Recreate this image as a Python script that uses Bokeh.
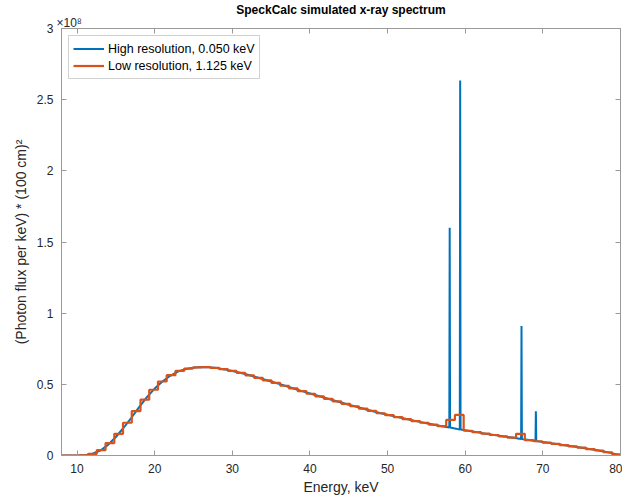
import numpy as np
from bokeh.plotting import figure
from bokeh.models import FixedTicker, LinearAxis, Title, Range1d
from bokeh.embed import file_html
from bokeh.resources import INLINE

# ---- data (flux in units of 1e8 photons per keV * (100 cm)^2) ----
# High resolution (0.050 keV) spectrum: continuum samples plus characteristic lines
energy_hi = [8, 9, 10, 11, 12, 13, 14, 15, 16, 17, 18, 19, 20, 21, 22, 23, 24, 25,
             26, 27, 28, 29, 30, 31, 32, 33, 34, 35, 36, 37, 38, 39, 40, 41, 42,
             43, 44, 45, 46, 47, 48, 49, 50, 51, 52, 53, 54, 55, 56, 57,
             57.95, 58.0, 58.05, 59, 59.3, 59.35, 59.4,
             60, 61, 62, 63, 64, 65, 66, 67, 67.2, 67.25, 67.3, 68,
             69, 69.05, 69.1, 69.15, 70, 71, 72, 73, 74, 75, 76, 77, 78, 79, 80]
flux_hi = [0.0, 0.0, 0.0, 0.001, 0.012, 0.035, 0.075, 0.13, 0.195, 0.265, 0.34, 0.41,
           0.47, 0.52, 0.56, 0.59, 0.607, 0.616, 0.622, 0.62, 0.614, 0.605, 0.594,
           0.581, 0.567, 0.552, 0.536, 0.52, 0.503, 0.486, 0.469, 0.452, 0.436,
           0.42, 0.404, 0.388, 0.372, 0.357, 0.342, 0.327, 0.313, 0.299, 0.286,
           0.273, 0.261, 0.249, 0.238, 0.227, 0.216, 0.206,
           0.197, 1.60, 0.196, 0.186, 0.183, 2.635, 0.182,
           0.177, 0.168, 0.159, 0.15, 0.142, 0.134, 0.126, 0.118, 0.116, 0.91, 0.115, 0.11,
           0.102, 0.102, 0.31, 0.101, 0.095, 0.087, 0.079, 0.071, 0.063, 0.055,
           0.046, 0.037, 0.027, 0.015, 0.0]

# Low resolution (1.125 keV) binned spectrum
bin_start = 8.05
bin_width = 1.125
flux_lo = [0.0, 0.0, 0.001, 0.012, 0.038, 0.087, 0.152, 0.23, 0.312, 0.392, 0.462,
           0.52, 0.564, 0.594, 0.611, 0.619, 0.621, 0.616, 0.607, 0.594, 0.58,
           0.563, 0.546, 0.528, 0.51, 0.49, 0.471, 0.452, 0.434, 0.416, 0.398,
           0.38, 0.363, 0.346, 0.329, 0.313, 0.297, 0.283, 0.269, 0.255, 0.242,
           0.23, 0.217, 0.206, 0.25, 0.285, 0.174, 0.164, 0.153, 0.144, 0.135,
           0.126, 0.152, 0.108, 0.1, 0.091, 0.082, 0.073, 0.064, 0.055, 0.045,
           0.035, 0.023, 0.008]

x_ticks = [10, 20, 30, 40, 50, 60, 70, 80]
y_ticks = [0, 0.5, 1, 1.5, 2, 2.5, 3]
y_tick_labels = {0: "0", 0.5: "0.5", 1: "1", 1.5: "1.5", 2: "2", 2.5: "2.5", 3: "3"}

title_text = "SpeckCalc simulated x-ray spectrum"
x_label = "Energy, keV"
y_label = "(Photon flux per keV) * (100 cm)\u00b2"
exp_text = "\u00d710\u2078"
label_hi = "High resolution, 0.050 keV"
label_lo = "Low resolution, 1.125 keV"

# ---- styling ----
FONT = "Liberation Sans"
TXT = "#262626"
AX = "#9a9a9a"
BLUE = "#0072BD"
ORANGE = "#D95319"

p = figure(width=622, height=499, output_backend="svg", toolbar_location=None,
           x_range=Range1d(8, 80), y_range=Range1d(0, 3),
           min_border_left=61, min_border_right=2, min_border_top=28,
           min_border_bottom=44)
p.grid.visible = False
p.outline_line_color = AX
p.background_fill_color = "white"
p.border_fill_color = "white"

p.title.text = title_text
p.title.align = "center"
p.title.text_font = FONT
p.title.text_font_size = "12px"
p.title.text_font_style = "bold"
p.title.text_color = "black"
p.title.standoff = -4

p.line(energy_hi, flux_hi, color=BLUE, line_width=2, legend_label=label_hi)

edges = [bin_start + bin_width * i for i in range(len(flux_lo) + 1)]
p.step(edges, flux_lo + [flux_lo[-1]], mode="after", color=ORANGE,
       line_width=2.2, legend_label=label_lo)

for ax in (p.xaxis[0], p.yaxis[0]):
    ax.axis_line_color = AX
    ax.major_tick_line_color = AX
    ax.major_tick_in = 5
    ax.major_tick_out = 0
    ax.minor_tick_line_color = None
    ax.major_label_text_font = FONT
    ax.major_label_text_font_size = "12px"
    ax.major_label_text_color = TXT
    ax.axis_label_text_font = FONT
    ax.axis_label_text_font_size = "14px"
    ax.axis_label_text_font_style = "normal"
    ax.axis_label_text_color = TXT

p.xaxis.ticker = FixedTicker(ticks=x_ticks)
p.yaxis.ticker = FixedTicker(ticks=y_ticks)
p.yaxis.major_label_overrides = y_tick_labels
p.xaxis.axis_label = x_label
p.yaxis.axis_label = y_label
p.xaxis.major_label_standoff = 8
p.yaxis.major_label_standoff = 8
p.xaxis.axis_label_standoff = 3
p.yaxis.axis_label_standoff = 5

# top and right tick marks (box style)
top = LinearAxis(ticker=FixedTicker(ticks=x_ticks),
                 major_label_overrides={t: "" for t in x_ticks})
right = LinearAxis(ticker=FixedTicker(ticks=y_ticks),
                   major_label_overrides={t: "" for t in y_ticks})
for ax in (top, right):
    ax.axis_line_color = AX
    ax.major_tick_line_color = AX
    ax.major_tick_in = 5
    ax.major_tick_out = 0
    ax.minor_tick_line_color = None
    ax.major_label_standoff = 0
    ax.major_label_text_font_size = "1px"
p.add_layout(top, "above")
p.add_layout(right, "right")

# exponent marker above the y axis, as a left-aligned title
exp_title = Title(text=exp_text, align="left", offset=-5, standoff=-2,
                  text_font=FONT, text_font_size="12px",
                  text_font_style="normal", text_color=TXT)
p.add_layout(exp_title, "above")

lg = p.legend[0]
lg.location = "top_left"
lg.margin = 7
lg.padding = 4
lg.spacing = 0
lg.glyph_width = 31
lg.glyph_height = 17
lg.label_height = 17
lg.label_standoff = 4
lg.label_text_font = FONT
lg.label_text_font_size = "12.5px"
lg.label_text_color = "black"
lg.border_line_color = "#a6a6a6"
lg.border_line_width = 1
lg.background_fill_alpha = 1.0

open("out.html", "w").write(file_html(p, INLINE))
